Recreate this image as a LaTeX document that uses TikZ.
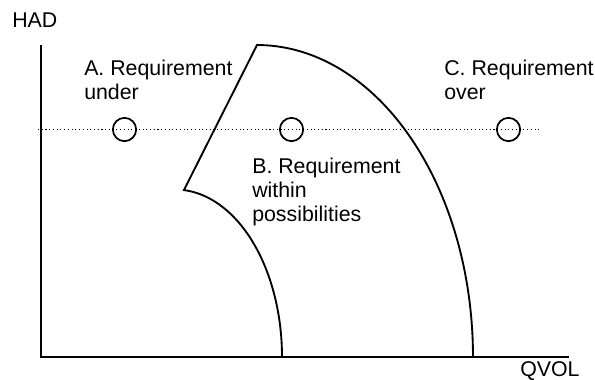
\documentclass[tikz,border=0pt]{standalone}
\usepackage{fontspec}
\setmainfont{Liberation Sans}
\begin{document}
\begin{tikzpicture}[x=0.75pt,y=-0.75pt,
  axis/.style={line width=1.5pt},
  curve/.style={line width=1.4pt,line join=miter},
  ring/.style={circle,draw,line width=1.3pt,minimum size=17.5pt,inner sep=0pt},
  lbl/.style={inner sep=0pt,anchor=base west,align=left,font=\fontsize{16}{18}\selectfont},
  guide/.style={dotted,line width=0.8pt}]
\fill[white] (0,0) rectangle (595,379);
\useasboundingbox (0,0) rectangle (595,379);
% axes
\coordinate (o) at (41,357);
\coordinate (ytop) at (41,45);
\coordinate (xend) at (569,357);
\draw[axis] (ytop) -- (o) -- (xend);
\node[lbl] (had) at (12,27) {HAD};
\node[lbl] (qvol) at (520,376) {QVOL};
% dotted requirement line
\coordinate (dl) at (38,129.5);
\coordinate (dr) at (540,129.5);
\draw[guide] (dl) -- (dr);
% possibility region
\coordinate (corner) at (184,190);
\coordinate (apex) at (257,45);
\draw[curve] plot[domain=0:85.2,samples=50] ({175+107*cos(\x)},{357-167.5*sin(\x)})
  -- (apex) -- plot[domain=90:0,samples=70] ({257+216*cos(\x)},{357-312*sin(\x)});
% requirement points
\node[ring] (ra) at (124.5,129.5) {};
\node[ring] (rb) at (291.5,129.5) {};
\node[ring] (rc) at (508.5,129.5) {};
% labels (anchored at the baseline of the last line)
\node[lbl] (la) at (84,99) {A. Requirement\\under};
\node[lbl] (lb) at (252,221) {B. Requirement\\within\\possibilities};
\node[lbl] (lc) at (444,99) {C. Requirement\\over};
\end{tikzpicture}
\end{document}
